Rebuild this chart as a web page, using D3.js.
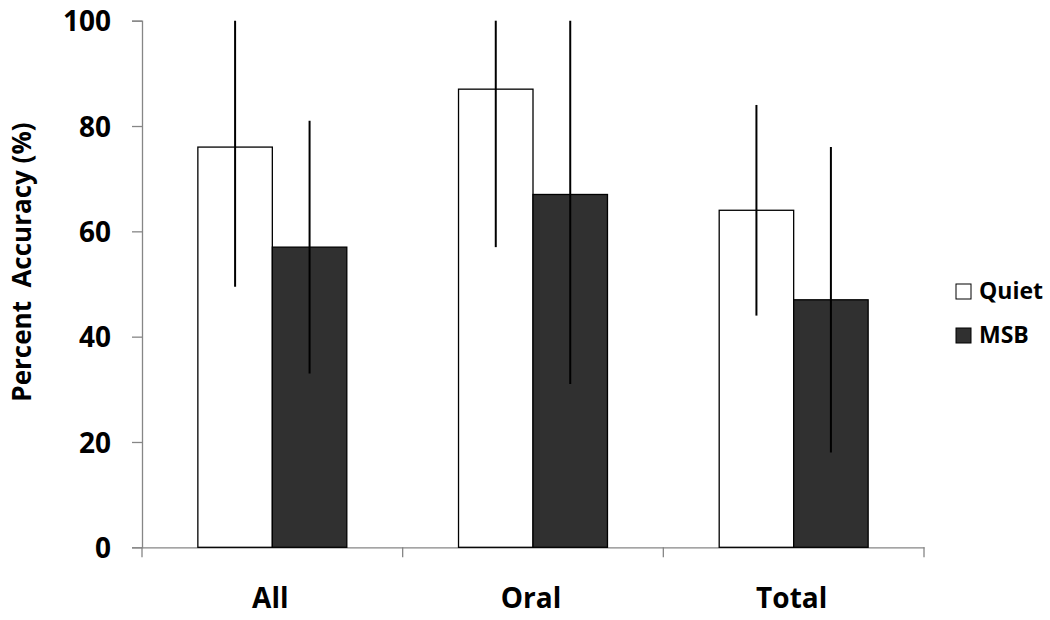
<!DOCTYPE html>
<html><head><meta charset="utf-8">
<script src="https://cdn.jsdelivr.net/npm/d3@7"></script>
<style>
html,body{margin:0;padding:0;background:#fff;}
svg text{font-family:"Open Sans",Lato,sans-serif;font-weight:bold;fill:#000;}
</style></head>
<body><svg id="chart" width="1050" height="620"></svg>
<script>
const categories = ["All", "Oral", "Total"];
const seriesNames = ["Quiet", "MSB"];
const quietValues = [76, 87, 64];
const msbValues = [57, 67, 47];
const quietErr = [26.5, 30, 20];
const msbErr = [24, 36, 29];
const yTicks = [0, 20, 40, 60, 80, 100];
const yTitle = "Percent\u00A0 Accuracy (%)";
const colors = ["#ffffff", "#303030"];

(function () {
const svg = d3.select("#chart");
const mLeft = 142, mRight = 924, mTop = 20.7, mBottom = 547.3;

const x = d3.scaleBand().domain(categories).range([mLeft, mRight]).paddingInner(0).paddingOuter(0);
const inner = d3.scaleBand().domain(seriesNames).range([0, x.bandwidth()]).paddingInner(0).paddingOuter(0.75);
const y = d3.scaleLinear().domain([0, 100]).range([mBottom, mTop]);

// y axis
const yAxis = svg.append("g").attr("transform", `translate(${mLeft},0)`)
  .call(d3.axisLeft(y).tickValues(yTicks).tickSize(10).tickPadding(21));
yAxis.select(".domain").attr("stroke", "#868686").attr("stroke-width", 1.3);
yAxis.selectAll(".tick line").attr("stroke", "#868686").attr("stroke-width", 1.3);
yAxis.selectAll(".tick text").style("font-size", "28px").style("font-family", "'Open Sans'").style("font-weight", "bold").attr("dy", "0.36em");

// x axis
const xAxis = svg.append("g").attr("transform", `translate(0,${mBottom})`)
  .call(d3.axisBottom(x).tickSize(0).tickFormat(""));
xAxis.select(".domain").attr("stroke", "#868686").attr("stroke-width", 1.3);
const bounds = d3.range(categories.length + 1).map(i => mLeft + i * x.step());
xAxis.selectAll("line.sep").data(bounds).enter().append("line")
  .attr("x1", d => d).attr("x2", d => d).attr("y1", 0).attr("y2", 10)
  .attr("stroke", "#868686").attr("stroke-width", 1.3);
svg.append("g").selectAll("text").data(categories).enter().append("text")
  .attr("x", d => x(d) + x.bandwidth() / 2 - 2)
  .attr("y", 608)
  .attr("text-anchor", "middle")
  .style("font-size", "28px")
  .text(d => d);

// y title
svg.append("text")
  .attr("transform", `translate(31,262) rotate(-90)`)
  .attr("text-anchor", "middle")
  .style("font-size", "26px")
  .text(yTitle);

// bars
const series = [
  { name: "Quiet", values: quietValues, err: quietErr, color: colors[0] },
  { name: "MSB", values: msbValues, err: msbErr, color: colors[1] }
];
const g = svg.append("g");
series.forEach(s => {
  categories.forEach((c, i) => {
    const bx = x(c) + inner(s.name);
    g.append("rect")
      .attr("x", bx).attr("y", y(s.values[i]))
      .attr("width", inner.bandwidth()).attr("height", y(0) - y(s.values[i]))
      .attr("fill", s.color).attr("stroke", "#000").attr("stroke-width", 1.3);
  });
});
series.forEach(s => {
  categories.forEach((c, i) => {
    const cx = x(c) + inner(s.name) + inner.bandwidth() / 2;
    const hi = Math.min(100, s.values[i] + s.err[i]);
    const lo = Math.max(0, s.values[i] - s.err[i]);
    g.append("line")
      .attr("x1", cx).attr("x2", cx).attr("y1", y(hi)).attr("y2", y(lo))
      .attr("stroke", "#000").attr("stroke-width", 2);
  });
});

// legend
const leg = svg.append("g");
series.forEach((s, i) => {
  const ly = 284 + i * 44;
  leg.append("rect").attr("x", 956).attr("y", ly).attr("width", 15).attr("height", 15)
    .attr("fill", s.color).attr("stroke", "#000").attr("stroke-width", 1);
  leg.append("text").attr("x", 979).attr("y", ly + 15).style("font-size", "23px").text(s.name);
});
})();
</script></body></html>
